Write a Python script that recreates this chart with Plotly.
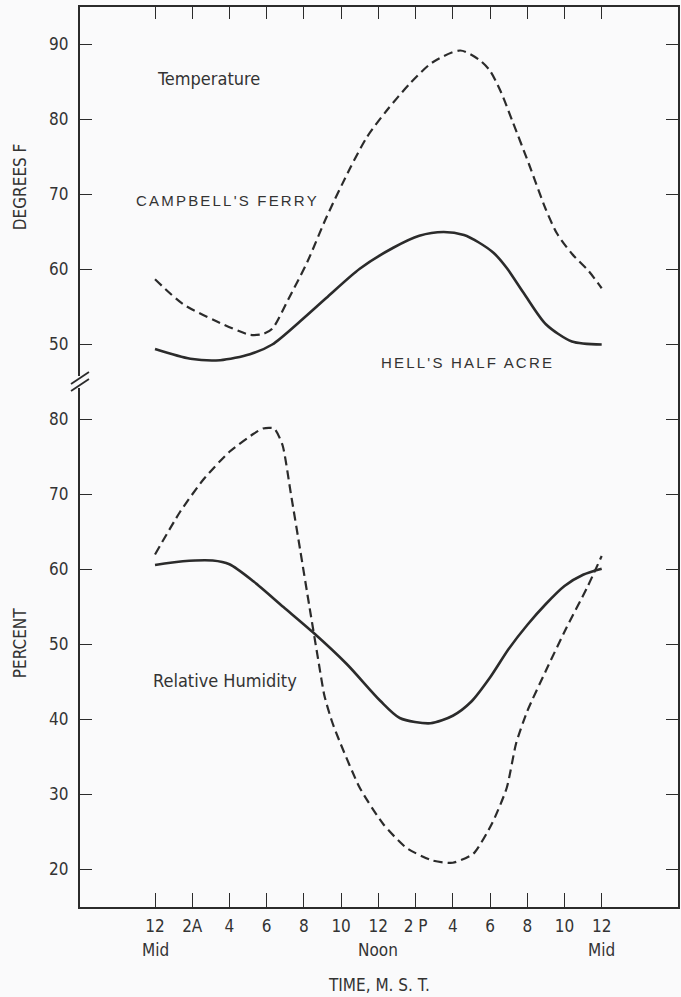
import plotly.graph_objects as go

# ---------------- data ----------------
tick_hours = [0, 2, 4, 6, 8, 10, 12, 14, 16, 18, 20, 22, 24]
tick_text = ["12", "2A", "4", "6", "8", "10", "12", "2 P", "4", "6", "8", "10", "12"]
sub_labels_hours = [0, 12, 24]
sub_labels = ["Mid", "Noon", "Mid"]

temp_cf_h = [0, 1.5, 3.3, 5.1, 5.8, 6.3, 7.2, 8.2, 9.2, 10.5, 11.4, 12.45, 13.7, 14.9,
             16.4, 17.4, 18.0, 18.6, 19.2, 20.1, 21.0, 21.6, 22.4, 23.3, 24]
temp_cf = [58.7, 55.4, 53.1, 51.3, 51.4, 52.1, 56.2, 61.1, 66.9, 73.6, 77.7, 81.2, 84.8, 87.6,
           89.2, 88.0, 86.5, 83.6, 79.8, 74.0, 68.0, 64.8, 62.1, 59.8, 57.5]

temp_hha_h = [0, 1.9, 3.5, 5.1, 6.3, 7.8, 9.2, 11, 12.8, 14.2, 15.5, 16.6, 17.4, 18.2, 18.9,
              19.8, 21, 22.4, 24]
temp_hha = [49.4, 48.1, 47.9, 48.7, 50.0, 53.1, 56.2, 60.1, 62.9, 64.5, 65.0, 64.6, 63.6, 62.2,
            60.2, 56.9, 52.7, 50.4, 50.0]

rh_cf_h = [0, 1.35, 2.6, 4, 5.3, 5.8, 6.4, 6.85, 7.3, 7.8, 8.3, 8.8, 9.1, 9.5, 9.9, 11, 12.25,
           13.5, 14.9, 16, 17.1, 18.1, 18.9, 19.4, 20, 21, 22.1, 23.2, 24]
rh_cf = [62.0, 67.7, 72.0, 75.7, 78.1, 78.8, 78.8, 76.6, 70.1, 62.6, 55.0, 47.5, 43.2, 39.8,
         37.2, 30.9, 26.1, 22.9, 21.2, 20.9, 22.1, 26.1, 30.9, 36.8, 41.1, 46.5, 52.2, 57.5, 61.8]

rh_hha_h = [0, 1.5, 3.1, 4, 5.3, 6.9, 8.5, 10.3, 12.1, 13.15, 14.8, 16, 17, 18, 19, 20, 21, 22,
            23, 24]
rh_hha = [60.6, 61.1, 61.2, 60.7, 58.4, 55.0, 51.6, 47.4, 42.5, 40.2, 39.5, 40.5, 42.4, 45.6,
          49.4, 52.6, 55.4, 57.8, 59.3, 60.1]

temp_ticks = [50, 60, 70, 80, 90]
rh_ticks = [20, 30, 40, 50, 60, 70, 80]

# ---------------- style ----------------
W, H = 681, 997
ML, MR, MT, MB = 80, 1, 7, 90
PW, PH = W - ML - MR, H - MT - MB
INK = "#2b2b2b"
BG = "#fafafb"
NARROW = "Liberation Sans Narrow, DejaVu Sans Condensed, Arial Narrow, sans-serif"
WIDE = "Liberation Sans, Arial, sans-serif"
split = 525 / 900


def px(x):
    return (x - ML) / PW


def py(y):
    return (MT + PH - y) / PH


fig = go.Figure()
dash = "9px,5px"
SM = 0.75
fig.add_trace(go.Scatter(x=temp_cf_h, y=temp_cf, mode="lines", xaxis="x2", yaxis="y2",
                         line=dict(color=INK, width=2.2, dash=dash, shape="spline", smoothing=SM)))
fig.add_trace(go.Scatter(x=temp_hha_h, y=temp_hha, mode="lines", xaxis="x2", yaxis="y2",
                         line=dict(color=INK, width=2.6, shape="spline", smoothing=SM)))
fig.add_trace(go.Scatter(x=rh_cf_h, y=rh_cf, mode="lines", xaxis="x", yaxis="y",
                         line=dict(color=INK, width=2.2, dash=dash, shape="spline", smoothing=0.6)))
fig.add_trace(go.Scatter(x=rh_hha_h, y=rh_hha, mode="lines", xaxis="x", yaxis="y",
                         line=dict(color=INK, width=2.6, shape="spline", smoothing=SM)))

xr = [-4.03, 28.1]
tickfont = dict(family=NARROW, size=17, color="#333")
common_y = dict(showline=True, linecolor=INK, linewidth=2.2, mirror="ticks", ticks="inside",
                ticklen=12, tickwidth=1.3, tickcolor=INK, showgrid=False, zeroline=False,
                tickfont=tickfont, ticklabelstandoff=6)

fig.update_layout(
    width=W, height=H, margin=dict(l=ML, r=MR, t=MT, b=MB),
    paper_bgcolor=BG, plot_bgcolor=BG, showlegend=False,
    xaxis=dict(range=xr, domain=[0, 1], anchor="y", tickvals=tick_hours, ticktext=tick_text,
               showline=True, linecolor=INK, linewidth=2.2, ticks="inside", ticklen=14,
               tickwidth=1.3, tickcolor=INK, showgrid=False, zeroline=False,
               tickfont=tickfont, ticklabelstandoff=2),
    xaxis2=dict(range=xr, domain=[0, 1], anchor="y2", side="top", tickvals=tick_hours,
                showticklabels=False, showline=True, linecolor=INK, linewidth=2.2,
                ticks="inside", ticklen=12, tickwidth=1.3, tickcolor=INK,
                showgrid=False, zeroline=False),
    yaxis=dict(range=[15, 85], domain=[0, split], tickvals=rh_ticks, **common_y),
    yaxis2=dict(range=[45, 95], domain=[split, 1], tickvals=temp_ticks, **common_y),
)

ann = []


def note(x, y, text, size=17, family=NARROW, xanchor="center", angle=0, xref="paper"):
    ann.append(dict(x=x, y=py(y), xref=xref, yref="paper", text=text, showarrow=False,
                    xanchor=xanchor, yanchor="middle", textangle=angle,
                    font=dict(family=family, size=size, color="#333")))


for h, t in zip(sub_labels_hours, sub_labels):
    note(h, 950, t, xref="x")
note(px(380), 985, "TIME, M. S. T.")
note(px(20), 187, "DEGREES F", angle=-90)
note(px(20), 643, "PERCENT", angle=-90)
note(px(155), 78, "Temperature", size=18, xanchor="left")
note(px(151), 680, "Relative Humidity", size=18, xanchor="left")
note(px(134), 200, '<span style="letter-spacing:2.2px">CAMPBELL\'S FERRY</span>',
     size=15, family=WIDE, xanchor="left")
note(px(380), 362, '<span style="letter-spacing:2.2px">HELL\'S HALF ACRE</span>',
     size=15, family=WIDE, xanchor="left")
fig.update_layout(annotations=ann)

# axis break on the left spine
shapes = [
    dict(type="line", xref="paper", yref="paper", x0=px(80), x1=px(80), y0=py(376), y1=py(388),
         line=dict(color=BG, width=5), layer="above"),
    dict(type="line", xref="paper", yref="paper", x0=px(71), x1=px(89), y0=py(384), y1=py(372),
         line=dict(color=INK, width=1.8), layer="above"),
    dict(type="line", xref="paper", yref="paper", x0=px(71), x1=px(89), y0=py(391), y1=py(379),
         line=dict(color=INK, width=1.8), layer="above"),
]
fig.update_layout(shapes=shapes)

fig.write_html("out.html")
